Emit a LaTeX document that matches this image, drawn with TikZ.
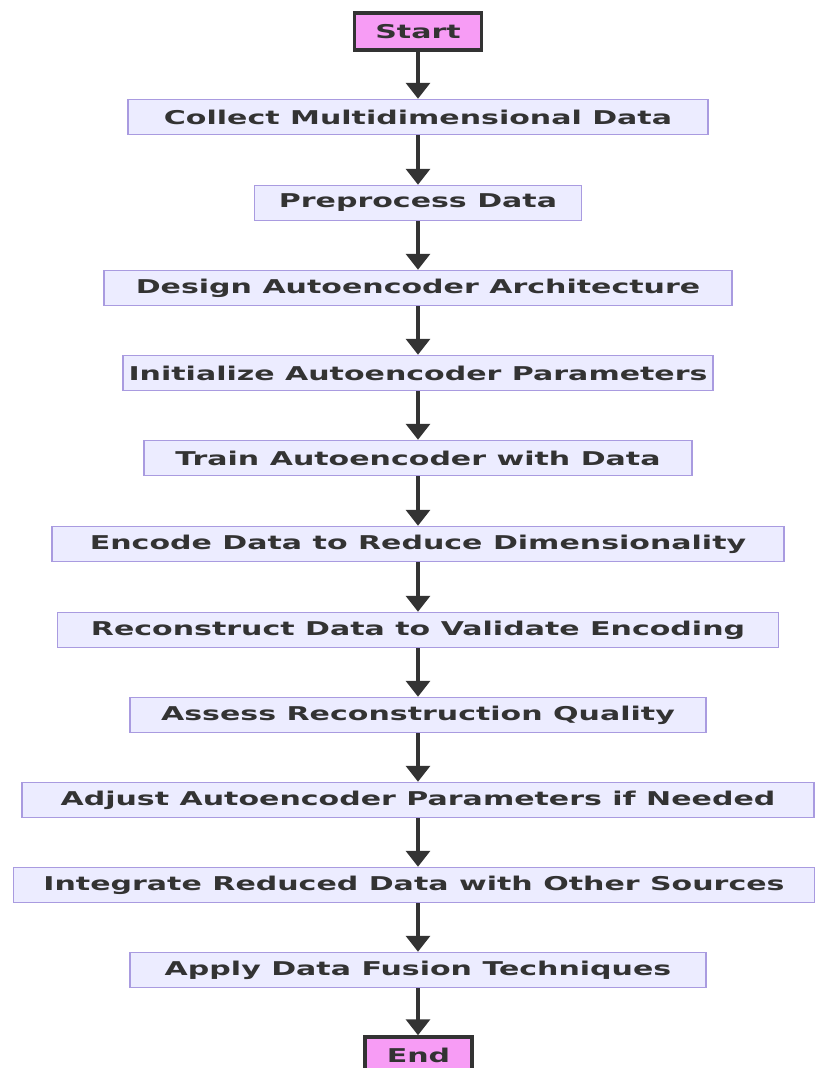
\documentclass[tikz,border=0pt]{standalone}
\usepackage{fontspec}
\usetikzlibrary{arrows.meta}
\newfontfamily\lblfont[FakeStretch=1.58]{DejaVu Sans}
\definecolor{procfill}{HTML}{ECECFF}
\definecolor{procline}{HTML}{A99BE0}
\definecolor{termfill}{HTML}{F79CF5}
\definecolor{ink}{HTML}{333333}
\tikzset{
  procbox/.style={draw=procline, line width=1.5pt, fill=procfill, minimum height=35pt,
    inner sep=0pt, text=ink, font=\lblfont\bfseries\fontsize{19}{21}\selectfont},
  termbox/.style={draw=ink, line width=3.5pt, fill=termfill, minimum height=37pt,
    inner sep=0pt, text=ink, font=\lblfont\bfseries\fontsize{19}{21}\selectfont},
  flow/.style={draw=ink, line width=3.5pt, -{Triangle[width=24pt,length=16pt]}}
}
\begin{document}
\begin{tikzpicture}[x=1pt,y=-1pt]
\useasboundingbox (0,0) rectangle (815,1068);
\node[termbox, minimum width=127pt] (start) at (418,31.5) {Start};
\node[procbox, minimum width=580pt] (collect) at (418,117) {Collect Multidimensional Data};
\node[procbox, minimum width=327pt] (prep) at (418,203) {Preprocess Data};
\node[procbox, minimum width=628pt] (design) at (418,288) {Design Autoencoder Architecture};
\node[procbox, minimum width=590pt] (init) at (418,373) {Initialize Autoencoder Parameters};
\node[procbox, minimum width=548pt] (train) at (418,458) {Train Autoencoder with Data};
\node[procbox, minimum width=732pt] (encode) at (418,544) {Encode Data to Reduce Dimensionality};
\node[procbox, minimum width=721pt] (recon) at (418,630) {Reconstruct Data to Validate Encoding};
\node[procbox, minimum width=576pt] (assess) at (418,715) {Assess Reconstruction Quality};
\node[procbox, minimum width=792pt] (adjust) at (418,800) {Adjust Autoencoder Parameters if Needed};
\node[procbox, minimum width=801pt] (integ) at (414,885) {Integrate Reduced Data with Other Sources};
\node[procbox, minimum width=576pt] (fusion) at (418,970) {Apply Data Fusion Techniques};
\node[termbox, minimum width=107pt] (end) at (418.5,1055.5) {End};
\foreach \a/\b in {start/collect, collect/prep, prep/design, design/init, init/train,
  train/encode, encode/recon, recon/assess, assess/adjust, adjust/integ, integ/fusion, fusion/end}
  \draw[flow] (\a.south -| 418,0) -- (\b.north -| 418,0);
\end{tikzpicture}
\end{document}
